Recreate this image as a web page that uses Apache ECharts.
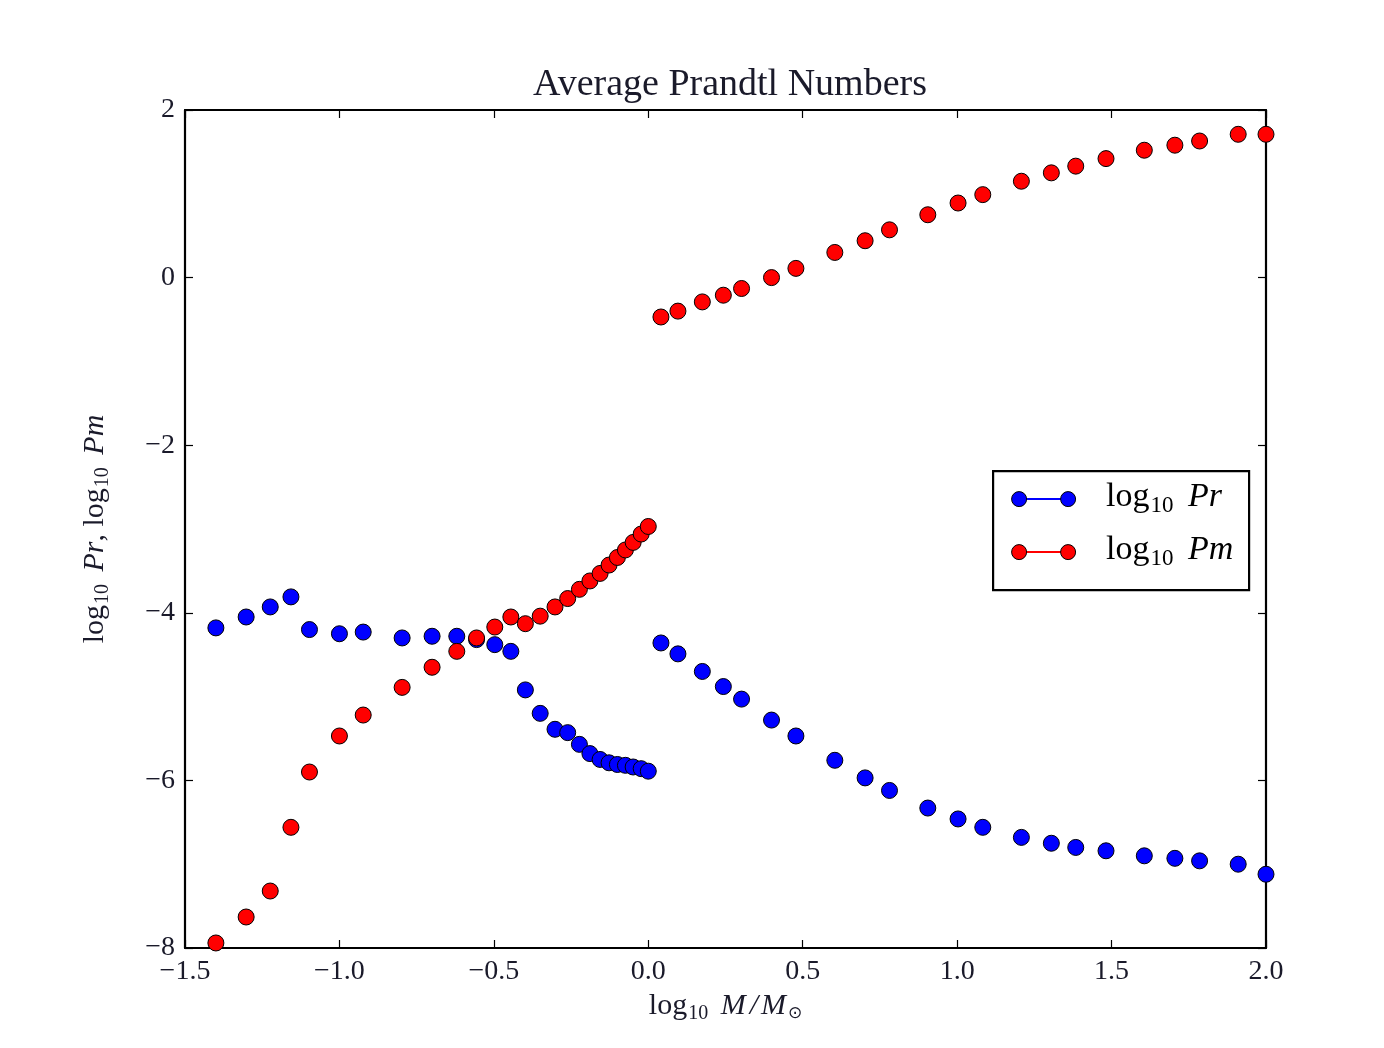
<!DOCTYPE html>
<html>
<head>
<meta charset="utf-8">
<title>Average Prandtl Numbers</title>
<script src="https://cdn.jsdelivr.net/npm/echarts@6/dist/echarts.min.js"></script>
<style>
  html, body { margin: 0; padding: 0; background: #ffffff; }
  #chart { width: 1384px; height: 1048px; }
</style>
</head>
<body>
<div id="chart"></div>
<script>
// log10 of stellar mass (solar units), low-mass branch (M <= 1)
var massLow = [-1.40, -1.302, -1.224, -1.157, -1.097, -1.0, -0.923, -0.797, -0.70, -0.62,
  -0.556, -0.497, -0.445, -0.398, -0.350, -0.302, -0.261, -0.223, -0.189, -0.156,
  -0.127, -0.100, -0.074, -0.049, -0.023, 0.0];
var prLow = [-4.18, -4.05, -3.93, -3.81, -4.20, -4.25, -4.23, -4.30, -4.28, -4.28,
  -4.32, -4.38, -4.46, -4.92, -5.20, -5.39, -5.43, -5.57, -5.68, -5.75,
  -5.79, -5.81, -5.82, -5.84, -5.86, -5.89];
var pmLow = [-7.94, -7.63, -7.32, -6.56, -5.90, -5.47, -5.22, -4.89, -4.65, -4.46,
  -4.30, -4.17, -4.05, -4.13, -4.04, -3.93, -3.83, -3.72, -3.62, -3.53,
  -3.43, -3.34, -3.25, -3.16, -3.06, -2.97];

// high-mass branch (M > 1)
var massHigh = [0.041, 0.096, 0.175, 0.243, 0.302, 0.399, 0.478, 0.604, 0.702, 0.781,
  0.905, 1.003, 1.083, 1.208, 1.305, 1.384, 1.482, 1.606, 1.705, 1.785, 1.910, 2.0];
var prHigh = [-4.36, -4.49, -4.70, -4.88, -5.03, -5.28, -5.47, -5.76, -5.97, -6.12,
  -6.33, -6.46, -6.56, -6.68, -6.75, -6.80, -6.84, -6.90, -6.93, -6.96, -7.00, -7.12];
var pmHigh = [-0.47, -0.40, -0.29, -0.21, -0.13, 0.00, 0.11, 0.30, 0.44, 0.57,
  0.75, 0.89, 0.99, 1.15, 1.25, 1.33, 1.42, 1.52, 1.58, 1.63, 1.71, 1.71];

var seriesNames = ['log10 Pr', 'log10 Pm'];
var xTicks = { min: -1.5, max: 2.0, step: 0.5 };
var yTicks = { min: -8, max: 2, step: 2 };

function pairs(xs, ys) {
  return xs.map(function (x, i) { return [x, ys[i]]; });
}

var FONT = '"Liberation Serif", "DejaVu Serif", serif';
var INK = '#1a1a2a';

function fmtX(v) { return v.toFixed(1).replace('-', '\u2212'); }
function fmtY(v) { return String(Math.round(v)).replace('-', '\u2212'); }

var tickStyle = { show: true, inside: true, length: 8, lineStyle: { color: '#000', width: 1.2 } };
var frameLine = { show: true, onZero: false, lineStyle: { color: '#000', width: 2.2 } };

// math-style labels: upright "log", lowered subscripts, italic symbols
function mathRich(size) {
  var sub = Math.round(size * 0.68);
  return {
    base: { fontFamily: FONT, fontSize: size, color: INK },
    sub: { fontFamily: FONT, fontSize: sub, color: INK, padding: [Math.round(size * 0.5), 0, 0, 1] },
    it: { fontFamily: FONT, fontSize: size, fontStyle: 'italic', color: INK },
    gap: { fontFamily: FONT, fontSize: size, color: INK, padding: [0, 0, 0, Math.round(size * 0.18)] },
    slash: { fontFamily: FONT, fontSize: size, fontStyle: 'italic', color: INK, padding: [0, 3, 0, 4] },
    odot: { fontFamily: 'DejaVu Sans', fontSize: Math.round(size * 0.55), color: INK,
      padding: [Math.round(size * 0.5), 0, 0, 2] }
  };
}

var chart = echarts.init(document.getElementById('chart'), null, { renderer: 'canvas' });

var option = {
  backgroundColor: '#ffffff',
  animation: false,
  title: {
    text: 'Average Prandtl Numbers',
    left: 725, textAlign: 'center', top: 61,
    textStyle: { fontFamily: FONT, fontSize: 38, fontWeight: 'normal', color: INK }
  },
  grid: { left: 185, top: 110, right: 118, bottom: 100, containLabel: false },
  xAxis: [{
    type: 'value', position: 'bottom',
    min: xTicks.min, max: xTicks.max, interval: xTicks.step,
    axisLine: frameLine, axisTick: tickStyle, splitLine: { show: false },
    axisLabel: { margin: 10, formatter: fmtX, fontFamily: FONT, fontSize: 28, color: INK },
    name: '{base|log}{sub|10}{gap| }{it|M}{slash|/}{it|M}{odot|\u2299}',
    nameLocation: 'middle', nameGap: 38,
    nameTextStyle: { rich: mathRich(30) }
  }, {
    type: 'value', position: 'top',
    min: xTicks.min, max: xTicks.max, interval: xTicks.step,
    axisLine: frameLine, axisTick: tickStyle, splitLine: { show: false },
    axisLabel: { show: false }
  }],
  yAxis: [{
    type: 'value', position: 'left',
    min: yTicks.min, max: yTicks.max, interval: yTicks.step,
    axisLine: frameLine, axisTick: tickStyle, splitLine: { show: false },
    axisLabel: { margin: 10, formatter: fmtY, fontFamily: FONT, fontSize: 28, color: INK },
    name: '{base|log}{sub|10}{gap| }{it|Pr}{base|, log}{sub|10}{gap| }{it|Pm}',
    nameLocation: 'middle', nameGap: 72, nameRotate: 90,
    nameTextStyle: { rich: mathRich(30) }
  }, {
    type: 'value', position: 'right',
    min: yTicks.min, max: yTicks.max, interval: yTicks.step,
    axisLine: frameLine, axisTick: tickStyle, splitLine: { show: false },
    axisLabel: { show: false }
  }],
  series: [{
    name: seriesNames[0], type: 'scatter', clip: true,
    symbol: 'circle', symbolSize: 16,
    itemStyle: { color: '#0000ff', borderColor: '#000', borderWidth: 1, opacity: 1 },
    data: pairs(massLow, prLow).concat(pairs(massHigh, prHigh))
  }, {
    name: seriesNames[1], type: 'scatter', clip: true,
    symbol: 'circle', symbolSize: 16,
    itemStyle: { color: '#ff0000', borderColor: '#000', borderWidth: 1, opacity: 1 },
    data: pairs(massLow, pmLow).concat(pairs(massHigh, pmHigh))
  }],
  // legend box: line-with-end-markers keys, as in the matplotlib style
  graphic: [{
    type: 'group', left: 992, top: 470,
    children: [
      { type: 'rect', shape: { x: 0, y: 0, width: 256, height: 119 },
        style: { fill: '#fff', stroke: '#000', lineWidth: 2.2 } },
      { type: 'line', shape: { x1: 26, y1: 28, x2: 75, y2: 28 }, style: { stroke: '#0000ff', lineWidth: 2 } },
      { type: 'circle', shape: { cx: 26, cy: 28, r: 7.5 }, style: { fill: '#0000ff', stroke: '#000', lineWidth: 1 } },
      { type: 'circle', shape: { cx: 75, cy: 28, r: 7.5 }, style: { fill: '#0000ff', stroke: '#000', lineWidth: 1 } },
      { type: 'text', x: 113, y: 26,
        style: { text: '{base|log}{sub|10}{gap| }{it|Pr}', rich: mathRich(34), verticalAlign: 'middle', align: 'left' } },
      { type: 'line', shape: { x1: 26, y1: 81, x2: 75, y2: 81 }, style: { stroke: '#ff0000', lineWidth: 2 } },
      { type: 'circle', shape: { cx: 26, cy: 81, r: 7.5 }, style: { fill: '#ff0000', stroke: '#000', lineWidth: 1 } },
      { type: 'circle', shape: { cx: 75, cy: 81, r: 7.5 }, style: { fill: '#ff0000', stroke: '#000', lineWidth: 1 } },
      { type: 'text', x: 113, y: 79,
        style: { text: '{base|log}{sub|10}{gap| }{it|Pm}', rich: mathRich(34), verticalAlign: 'middle', align: 'left' } }
    ]
  }]
};

chart.setOption(option);
</script>
</body>
</html>
